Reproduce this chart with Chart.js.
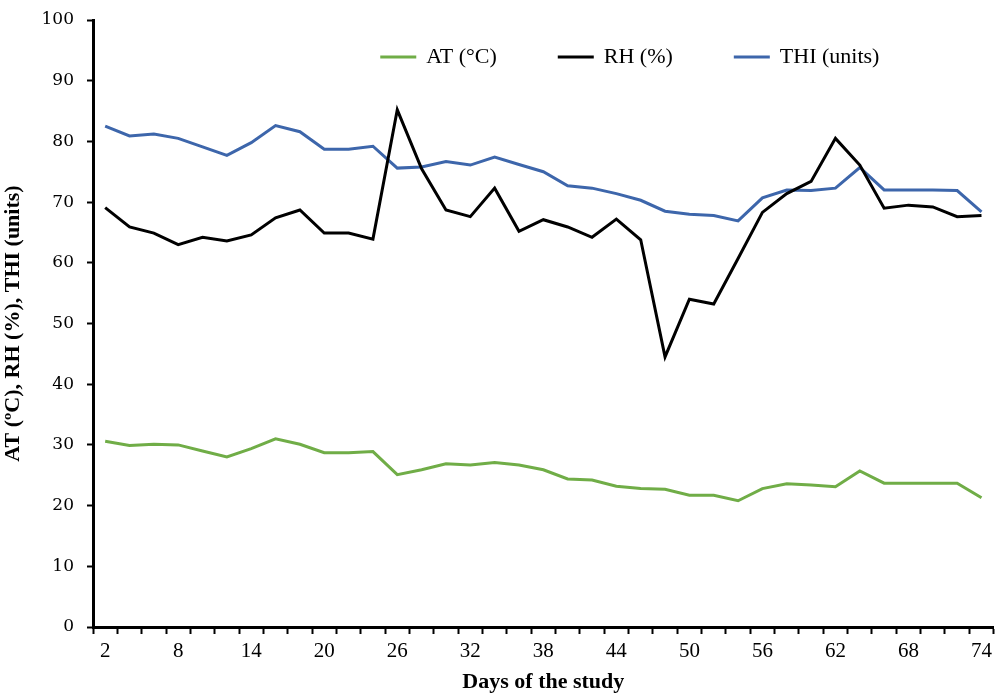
<!DOCTYPE html>
<html>
<head>
<meta charset="utf-8">
<script src="https://cdn.jsdelivr.net/npm/chart.js@4.4.1/dist/chart.umd.min.js"></script>
<style>
  html, body { margin: 0; padding: 0; background: #fff; }
  #wrap { width: 997px; height: 696px; position: relative; }
</style>
</head>
<body>
<div id="wrap"><canvas id="myChart"></canvas></div>
<script>
const days = [2, 4, 6, 8, 10, 12, 14, 16, 18, 20, 22, 24, 26, 28, 30, 32, 34, 36, 38,
  40, 42, 44, 46, 48, 50, 52, 54, 56, 58, 60, 62, 64, 66, 68, 70, 72, 74];

const atValues = [30.6, 29.9, 30.1, 30.0, 29.0, 28.0, 29.4, 31.0, 30.1, 28.7, 28.7, 28.9,
  25.1, 25.9, 26.9, 26.7, 27.1, 26.7, 25.9, 24.4, 24.2, 23.2, 22.8, 22.7, 21.7, 21.7,
  20.8, 22.8, 23.6, 23.4, 23.1, 25.7, 23.7, 23.7, 23.7, 23.7, 21.3];

const rhValues = [69.1, 65.9, 64.9, 63.0, 64.2, 63.6, 64.6, 67.4, 68.7, 64.9, 64.9, 63.9,
  85.2, 75.5, 68.7, 67.6, 72.3, 65.2, 67.1, 65.9, 64.2, 67.2, 63.8, 44.5, 54.0, 53.2,
  60.7, 68.3, 71.4, 73.4, 80.5, 76.1, 69.0, 69.5, 69.2, 67.6, 67.8];

const thiValues = [82.5, 80.9, 81.2, 80.5, 79.1, 77.7, 79.8, 82.6, 81.6, 78.7, 78.7, 79.2,
  75.6, 75.8, 76.7, 76.1, 77.4, 76.2, 75.0, 72.7, 72.3, 71.4, 70.3, 68.5, 68.0, 67.8,
  66.9, 70.7, 72.0, 71.9, 72.3, 75.7, 72.0, 72.0, 72.0, 71.9, 68.4];

const seriesNames = ["AT (°C)", "RH (%)", "THI (units)"];
const yTitle = "AT (ºC), RH (%), THI (units)";
const xTitle = "Days of the study";

// legend drawn as one row inside the plot, a bit right of centre
const legendShift = {
  id: "legendShift",
  beforeLayout(chart) {
    if (chart.legend) chart.legend.isHorizontal = () => true;
  },
  afterLayout(chart) {
    const lg = chart.legend;
    if (!lg) return;
    const dx = 180, dy = -36;
    lg.left += dx;
    lg.right += dx;
    lg.top += dy;
    lg.bottom += dy;
  },
};

const ctx = document.getElementById("myChart");

new Chart(ctx, {
  type: "line",
  data: {
    labels: days,
    datasets: [
      {
        label: seriesNames[0],
        data: atValues,
        borderColor: "#70AD47",
        backgroundColor: "#70AD47",
        borderWidth: 3,
      },
      {
        label: seriesNames[1],
        data: rhValues,
        borderColor: "#000000",
        backgroundColor: "#000000",
        borderWidth: 3,
      },
      {
        label: seriesNames[2],
        data: thiValues,
        borderColor: "#3D66AB",
        backgroundColor: "#3D66AB",
        borderWidth: 3,
      },
    ],
  },
  options: {
    responsive: true,
    maintainAspectRatio: false,
    animation: false,
    layout: { padding: { top: 20, right: 0, bottom: 0, left: 0 } },
    elements: {
      point: { radius: 0 },
      line: { tension: 0 },
    },
    plugins: {
      tooltip: { enabled: false },
      legend: {
        position: "chartArea",
        align: "center",
        labels: {
          color: "#000",
          font: { family: "Liberation Serif", size: 22 },
          boxWidth: 34,
          boxHeight: 1,
          padding: 62,
          generateLabels(chart) {
            const items = Chart.defaults.plugins.legend.labels.generateLabels(chart);
            items.forEach((it) => (it.lineWidth = 2));
            return items;
          },
        },
      },
    },
    scales: {
      x: {
        type: "category",
        offset: true,
        afterFit(scale) {
          scale.height = 69;
        },
        grid: {
          offset: true,
          drawOnChartArea: false,
          drawTicks: true,
          tickLength: 7,
          tickColor: "#000",
          tickWidth: 2,
        },
        border: { color: "#000", width: 3 },
        ticks: {
          autoSkip: false,
          maxRotation: 0,
          color: "#000",
          padding: 5,
          font: { family: "Liberation Serif", size: 21 },
          callback(value, index) {
            return index % 3 === 0 ? this.getLabelForValue(value) : "";
          },
        },
        title: {
          display: true,
          text: xTitle,
          color: "#000",
          font: { family: "Liberation Serif", size: 22, weight: "bold" },
          padding: { top: 3, bottom: 0 },
        },
      },
      y: {
        min: 0,
        max: 100,
        afterFit(scale) {
          scale.width = 93;
          scale.paddingTop = 10;
        },
        grid: {
          drawOnChartArea: false,
          drawTicks: true,
          tickLength: 6,
          tickColor: "#000",
          tickWidth: 2,
        },
        border: { color: "#000", width: 3 },
        ticks: {
          stepSize: 10,
          color: "#000",
          padding: 13,
          font: { family: "DejaVu Serif", size: 17 },
        },
        title: {
          display: true,
          text: yTitle,
          color: "#000",
          font: { family: "Liberation Serif", size: 22, weight: "bold" },
          padding: { top: 0, bottom: 4 },
        },
      },
    },
  },
  plugins: [legendShift],
});
</script>
</body>
</html>
